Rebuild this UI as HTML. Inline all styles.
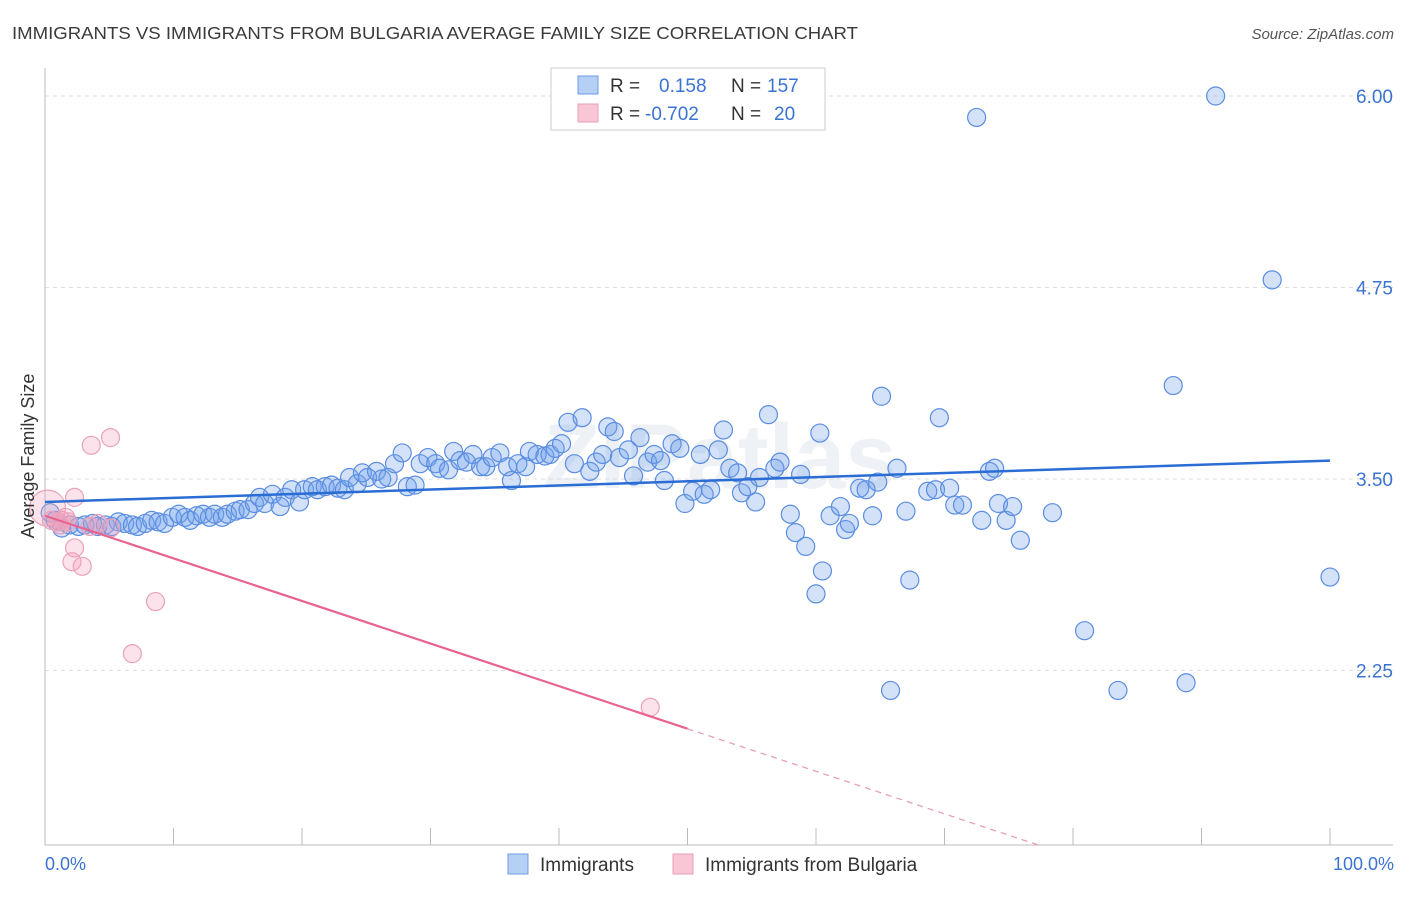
<!DOCTYPE html>
<html><head><meta charset="utf-8"><style>
body{margin:0;background:#fff;font-family:"Liberation Sans",sans-serif}
</style></head><body>
<svg width="1406" height="892" xmlns="http://www.w3.org/2000/svg" font-family="Liberation Sans, sans-serif">
<text x="12" y="39" font-size="17.5" fill="#3a3a3a" textLength="846" lengthAdjust="spacingAndGlyphs">IMMIGRANTS VS IMMIGRANTS FROM BULGARIA AVERAGE FAMILY SIZE CORRELATION CHART</text>
<text x="1394" y="39" font-size="15" fill="#555" font-style="italic" text-anchor="end">Source: ZipAtlas.com</text>
<text x="720" y="488" font-size="92" font-weight="bold" fill="#e4e8f0" text-anchor="middle" opacity="0.6">ZIPatlas</text>
<g id="grid"></g>
<g id="axes"></g>
<g id="marks"></g>
<text transform="translate(34,456) rotate(-90)" font-size="18" fill="#333" text-anchor="middle">Average Family Size</text>
<text x="45" y="870" font-size="18" fill="#3b73d1">0.0%</text>
<text x="1394" y="870" font-size="18" fill="#3b73d1" text-anchor="end">100.0%</text>
<g>
<rect x="551" y="68" width="274" height="62" fill="#fff" stroke="#ccc"/>
<rect x="578" y="76" width="20" height="18" fill="#b6cff5" stroke="#6f9be3"/>
<rect x="578" y="104" width="20" height="18" fill="#f8c6d4" stroke="#e8a0b8"/>
<text x="610" y="92" font-size="19" fill="#333">R =</text>
<text x="659" y="92" font-size="19" fill="#3b73d1">0.158</text>
<text x="731" y="92" font-size="19" fill="#333">N =</text>
<text x="767" y="92" font-size="19" fill="#3b73d1">157</text>
<text x="610" y="120" font-size="19" fill="#333">R =</text>
<text x="645" y="120" font-size="19" fill="#3b73d1">-0.702</text>
<text x="731" y="120" font-size="19" fill="#333">N =</text>
<text x="774" y="120" font-size="19" fill="#3b73d1">20</text>
</g>
<g>
<rect x="508" y="854" width="20" height="20" fill="#b6cff5" stroke="#6f9be3"/>
<text x="540" y="871" font-size="19" fill="#333">Immigrants</text>
<rect x="673" y="854" width="20" height="20" fill="#f8c6d4" stroke="#e8a0b8"/>
<text x="705" y="871" font-size="19" fill="#333">Immigrants from Bulgaria</text>
</g>
</svg>
<script>
const yTicks=[6.00,4.75,3.50,2.25];
const yTickLabels=["6.00","4.75","3.50","2.25"];
const blueX=[0.4,0.8,1.3,1.9,2.6,3.1,3.7,4.1,4.7,5.2,5.7,6.2,6.8,7.2,7.8,8.3,8.8,9.3,9.9,10.4,10.9,11.3,11.8,12.3,12.8,13.2,13.8,14.2,14.8,15.2,15.8,16.3,16.7,17.1,17.7,18.3,18.7,19.2,19.8,20.2,20.8,21.2,21.8,22.3,22.8,23.3,23.7,24.3,24.7,25.1,25.8,26.2,26.7,27.2,27.8,28.2,28.8,29.2,29.8,30.4,30.7,31.4,31.8,32.3,32.8,33.3,33.9,34.3,34.8,35.4,36.0,36.3,36.8,37.4,37.7,38.3,38.9,39.3,39.7,40.2,40.7,41.2,41.8,42.4,42.9,43.4,43.8,44.3,44.7,45.4,45.8,46.3,46.9,47.4,47.9,48.2,48.8,49.4,49.8,50.4,51.0,51.3,51.8,52.4,52.8,53.3,53.9,54.2,54.7,55.3,55.6,56.3,56.8,57.2,58.0,58.4,58.8,59.2,60.0,60.3,60.5,61.1,61.9,62.3,62.6,63.4,63.9,64.4,64.8,65.1,65.8,66.3,67.0,67.3,68.7,69.3,69.6,70.4,70.8,71.4,72.9,73.5,73.9,74.2,74.8,75.3,75.9,78.4,80.9,83.5,87.8,88.8,91.1,72.5,95.5,100];
const blueY=[3.28,3.23,3.18,3.20,3.19,3.20,3.21,3.19,3.20,3.19,3.22,3.21,3.20,3.19,3.21,3.23,3.22,3.21,3.25,3.27,3.25,3.23,3.26,3.27,3.25,3.27,3.25,3.27,3.29,3.30,3.30,3.34,3.38,3.34,3.40,3.32,3.38,3.43,3.35,3.43,3.45,3.43,3.45,3.46,3.44,3.43,3.51,3.47,3.54,3.51,3.55,3.50,3.51,3.60,3.67,3.45,3.46,3.60,3.64,3.60,3.57,3.56,3.68,3.62,3.61,3.66,3.58,3.58,3.64,3.67,3.58,3.49,3.60,3.58,3.68,3.66,3.65,3.66,3.70,3.73,3.87,3.60,3.90,3.55,3.61,3.66,3.84,3.81,3.64,3.69,3.52,3.77,3.61,3.66,3.62,3.49,3.73,3.70,3.34,3.42,3.66,3.40,3.43,3.69,3.82,3.57,3.54,3.41,3.45,3.35,3.51,3.92,3.57,3.61,3.27,3.15,3.53,3.06,2.75,3.80,2.90,3.26,3.32,3.17,3.21,3.44,3.43,3.26,3.48,4.04,2.12,3.57,3.29,2.84,3.42,3.43,3.90,3.44,3.33,3.33,3.23,3.55,3.57,3.34,3.23,3.32,3.10,3.28,2.51,2.12,4.11,2.17,6.00,5.86,4.80,2.86];
const pinkX=[0.2,0.5,1.0,1.3,1.8,2.3,2.1,2.9,3.5,4.1,5.1,2.3,3.6,5.1,8.6,6.8,47.1,1.2,1.6];
const pinkY=[3.31,3.23,3.22,3.23,3.22,3.05,2.96,2.93,3.19,3.21,3.18,3.38,3.72,3.77,2.70,2.36,2.01,3.20,3.25];
const blueTrend=[3.35,3.62];
const pinkTrend=[3.26,1.87];
const NS="http://www.w3.org/2000/svg";
const X0=45,X1=1330,YB=845;
const sx=v=>X0+(X1-X0)*v/100;
const sy=v=>479-(v-3.5)*153.2;
function mk(tag,attrs,parent){const e=document.createElementNS(NS,tag);for(const k in attrs)e.setAttribute(k,attrs[k]);document.getElementById(parent).appendChild(e);return e;}
yTicks.forEach((t,i)=>{
 const g=mk('line',{x1:45,x2:1393,y1:sy(t),y2:sy(t),stroke:'#ddd','stroke-dasharray':'4,4'},'grid');
 
 
 const tx=mk('text',{x:1393,y:sy(t)+7,'font-size':19,fill:'#3b73d1','text-anchor':'end'},'grid');
 tx.textContent=yTickLabels[i];
 
 
});
const ax=mk('line',{x1:45,x2:45,y1:68,y2:YB,stroke:'#bbb'},'axes');


const bx=mk('line',{x1:45,x2:1393,y1:YB,y2:YB,stroke:'#bbb'},'axes');


for(let i=0;i<=10;i++){
 const t=mk('line',{x1:sx(i*10),x2:sx(i*10),y1:828,y2:YB,stroke:'#bbb'},'axes');
 
 
}
blueX.forEach((x,i)=>{
 const c=mk('circle',{cx:sx(x),cy:sy(blueY[i]),r:9,fill:'rgba(110,160,235,0.3)',stroke:'#5b8de0','stroke-width':1.2},'marks');
 
 
});
pinkX.forEach((x,i)=>{
 const c=mk('circle',{cx:sx(x),cy:sy(pinkY[i]),r:i===0?18:9,fill:'rgba(245,160,185,0.3)',stroke:'#e9a2ba','stroke-width':1.2},'marks');
 
 
});
const bl=mk('line',{x1:sx(0),y1:sy(blueTrend[0]),x2:sx(100),y2:sy(blueTrend[1]),stroke:'#2a6dd4','stroke-width':2.5},'marks');


const slope=(pinkTrend[1]-pinkTrend[0])/50;
const pl=mk('line',{x1:sx(0),y1:sy(pinkTrend[0]),x2:sx(50),y2:sy(pinkTrend[1]),stroke:'#e8638f','stroke-width':2.2},'marks');


const xEnd=(1.11-pinkTrend[0])/slope;
const pd=mk('line',{x1:sx(50),y1:sy(pinkTrend[1]),x2:sx(xEnd),y2:sy(1.11),stroke:'#e8a0b8','stroke-width':1.3,'stroke-dasharray':'6,5'},'marks');


</script>
</body></html>
